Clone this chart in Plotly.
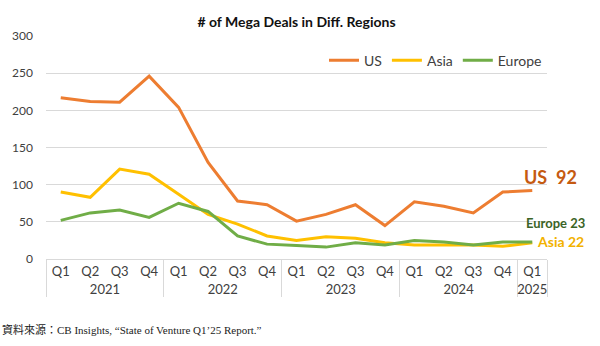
import plotly.graph_objects as go

# Quarter / year categories (two-level x axis)
years = ["2021"] * 4 + ["2022"] * 4 + ["2023"] * 4 + ["2024"] * 4 + ["2025"]
quarters = ["Q1", "Q2", "Q3", "Q4"] * 4 + ["Q1"]

# Number of mega deals per region
us = [217, 212, 211, 246, 204, 130, 78, 73, 51, 60, 73, 45, 77, 71, 62, 90, 92]
asia = [90, 83, 121, 114, 87, 60, 47, 31, 25, 30, 28, 22, 19, 19, 19, 17, 22]
europe = [52, 62, 66, 56, 75, 64, 31, 20, 18, 16, 22, 19, 25, 23, 19, 23, 23]

series = [
    ("US", us, "#ED7D31"),
    ("Asia", asia, "#FFC000"),
    ("Europe", europe, "#70AD47"),
]

FONT = "Lato, 'Open Sans', sans-serif"
last = len(quarters) - 1

fig = go.Figure()
for name, vals, color in series:
    fig.add_trace(go.Scatter(
        x=[years, quarters], y=vals, name=name, mode="lines",
        line=dict(color=color, width=3),
    ))

# End-of-series value labels, placed just right of the last quarter
end_labels = [
    ("US  " + str(us[-1]), us[-1], "#C55A11", 18, 18, 14),
    ("Europe " + str(europe[-1]), europe[-1], "#3B6426", 13, 23, 19),
    ("Asia " + str(asia[-1]), asia[-1], "#F2B200", 14, 28, 1),
]
for text, val, color, size, dx, dy in end_labels:
    fig.add_annotation(
        x=last, y=val, xref="x", yref="y", text="<b>" + text + "</b>",
        showarrow=False, xanchor="center", xshift=dx, yshift=dy,
        font=dict(family=FONT, size=size, color=color),
    )

fig.add_annotation(
    x=0, y=0, xref="paper", yref="paper", xanchor="left", yanchor="middle",
    xshift=-46, yshift=-70,
    text="資料來源：CB Insights, “State of Venture Q1’25 Report.”",
    showarrow=False,
    font=dict(family="'Liberation Serif', 'Noto Sans CJK TC', serif", size=11, color="#222222"),
)

fig.update_layout(
    width=600, height=346,
    margin=dict(l=39, r=53, t=36, b=87),
    paper_bgcolor="white", plot_bgcolor="white",
    font=dict(family=FONT, size=12, color="#404040"),
    title=dict(
        text="<b># of Mega Deals in Diff. Regions</b>",
        x=0.5, xref="paper", y=0.935, yanchor="middle",
        font=dict(family=FONT, size=14, color="#111111"),
    ),
    legend=dict(
        orientation="h", x=1, xanchor="right", y=0.89, yanchor="middle",
        font=dict(family=FONT, size=14, color="#404040"),
        bgcolor="rgba(0,0,0,0)", itemwidth=30,
    ),
    showlegend=True,
)

fig.update_yaxes(
    range=[0, 300], dtick=50, showgrid=True, gridcolor="#D9D9D9", gridwidth=1,
    zeroline=False, showline=False, ticks="", ticklabelstandoff=12,
    tickfont=dict(family=FONT, size=12, color="#404040"),
)
fig.update_xaxes(
    type="multicategory", range=[-0.5, last + 0.5],
    showgrid=False, showline=True, linecolor="#D9D9D9",
    showdividers=True, dividercolor="#D9D9D9", dividerwidth=1,
    ticks="outside", ticklen=15, tickcolor="rgba(0,0,0,0)",
    tickfont=dict(family=FONT, size=13, color="#404040"),
)

fig.write_html("out.html")
